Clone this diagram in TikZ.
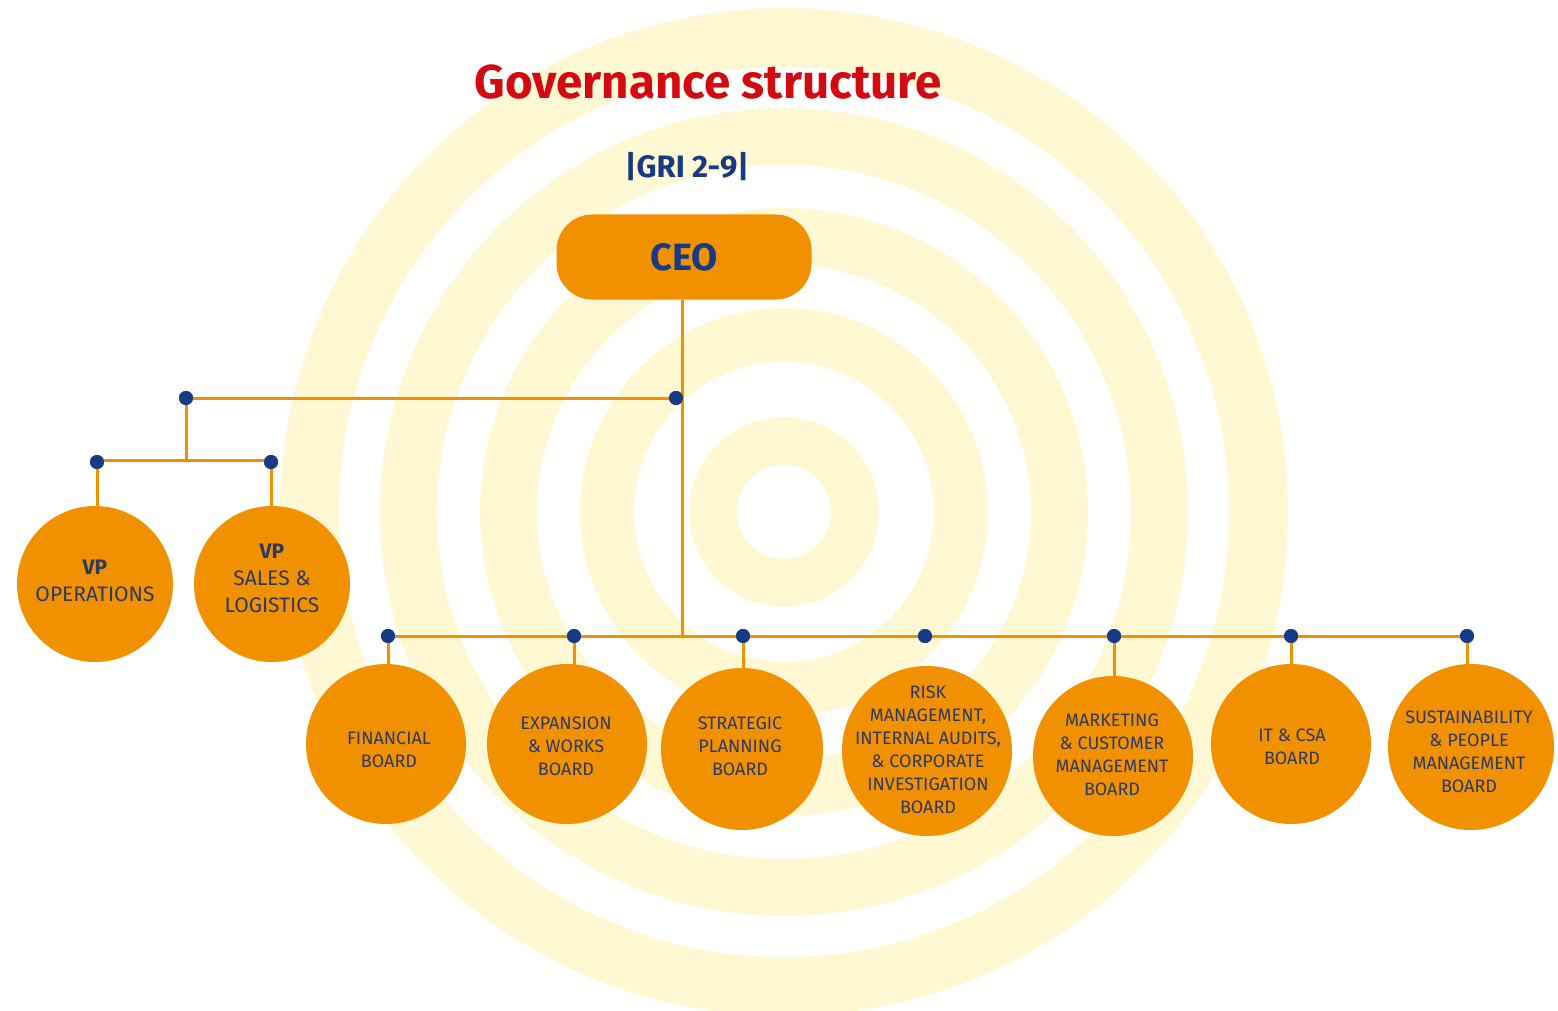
\documentclass[tikz,border=0pt]{standalone}
\usepackage{fontspec}
\setmainfont{Fira Sans}
\usetikzlibrary{positioning}
\definecolor{govorange}{HTML}{F29100}
\definecolor{govnavy}{HTML}{173A84}
\definecolor{govred}{HTML}{D20A11}
\definecolor{govring}{HTML}{FFF8D2}
\definecolor{govtext}{HTML}{2C3A62}
\tikzset{
  ceo/.style      = {fill=govorange, rounded corners=36pt, minimum width=255pt,
                     minimum height=85pt, text=govnavy, font=\fontsize{38}{42}\selectfont\bfseries},
  board/.style    = {circle, fill=govorange, minimum size=160pt, inner sep=0pt},
  boardlbl/.style = {align=center, inner sep=0pt, text=govtext, font=\fontsize{18}{23}\selectfont},
  vplbl/.style    = {boardlbl, font=\fontsize{21}{27}\selectfont},
  wire/.style     = {draw=govorange, line width=3pt},
  dot/.style      = {circle, fill=govnavy, minimum size=14pt, inner sep=0pt},
}

\begin{document}
\begin{tikzpicture}[x=1pt, y=-1pt]
  \useasboundingbox (0,0) rectangle (1558,1011);
  % concentric rings behind the chart
  \begin{scope}
    \clip (0,0) rectangle (1558,1011);
    \foreach \ri/\ro in {47/95, 150/204, 247/304, 347/404, 445/504}
      \fill[govring, even odd rule] (784,512) circle[radius=\ro] (784,512) circle[radius=\ri];
  \end{scope}

  \node[font=\fontsize{47.5}{52}\selectfont\bfseries, text=govred] (title) at (708,82) {Governance structure};
  \node[font=\fontsize{31}{34}\selectfont\bfseries, text=govnavy] (gri) at (687,167) {|GRI 2-9|};

  \node[ceo] (ceo) at (684,257) {CEO};

  % junctions
  \node[dot] (vpbus) at (676,398) {};
  \node[dot] (vpsplit) at (186,398) {};
  \node[dot] (opsdot) at (97,462) {};
  \node[dot] (salesdot) at (271,462) {};
  \coordinate (hub) at (682,636);
  \coordinate (fork) at (186,460);
  \foreach \name/\x in {fin/388, exp/574, strat/743, risk/925, mkt/1114, it/1291, sust/1467}
    \node[dot] (\name dot) at (\x,636) {};

  % wiring
  \draw[wire] (ceo.south -| hub) -- (hub);
  \draw[wire] (vpsplit.center) -- (vpbus.center);
  \draw[wire] (vpsplit.center) -- (fork);
  \draw[wire] (opsdot.center |- fork) -- (salesdot.center |- fork);
  \draw[wire] (findot.center) -- (sustdot.center);
  \foreach \name in {opsdot, salesdot}
    \draw[wire] (\name.center) -- ++(0,50);
  \foreach \name in {fin, exp, strat, mkt, it, sust}
    \draw[wire] (\name dot.center) -- ++(0,45);

  % dots back on top of the wires
  \foreach \name in {vpbus, vpsplit, opsdot, salesdot, findot, expdot, stratdot, riskdot, mktdot, itdot, sustdot}
    \fill[govnavy] (\name) circle[radius=7];

  % vice presidents
  \node[board, minimum size=156pt] (ops) at (95,584) {};
  \node[board, minimum size=156pt] (sales) at (272,584) {};
  \node[vplbl] (opstext) at (95,581) {\textbf{VP}\\OPERATIONS};
  \node[vplbl] (salestext) at (272,578) {\textbf{VP}\\SALES \&\\LOGISTICS};

  % boards
  \node[board] (fin) at (386,744) {};
  \node[board] (exp) at (567,744) {};
  \node[board, minimum size=162pt] (strat) at (742,749) {};
  \node[board, minimum size=170pt] (risk) at (927,751) {};
  \node[board] (mkt) at (1113,756) {};
  \node[board] (it) at (1291,744) {};
  \node[board, minimum size=166pt] (sust) at (1471,747) {};

  \node[boardlbl] (fintext) at (389,750) {FINANCIAL\\BOARD};
  \node[boardlbl] (exptext) at (566,746) {EXPANSION\\\& WORKS\\BOARD};
  \node[boardlbl] (strattext) at (740,746) {STRATEGIC\\PLANNING\\BOARD};
  \node[boardlbl] (risktext) at (928,750) {RISK\\MANAGEMENT,\\INTERNAL AUDITS,\\\& CORPORATE\\INVESTIGATION\\BOARD};
  \node[boardlbl] (mkttext) at (1112,755) {MARKETING\\\& CUSTOMER\\MANAGEMENT\\BOARD};
  \node[boardlbl] (ittext) at (1292,747) {IT \& CSA\\BOARD};
  \node[boardlbl] (susttext) at (1469,752) {SUSTAINABILITY\\\& PEOPLE\\MANAGEMENT\\BOARD};
\end{tikzpicture}
\end{document}
